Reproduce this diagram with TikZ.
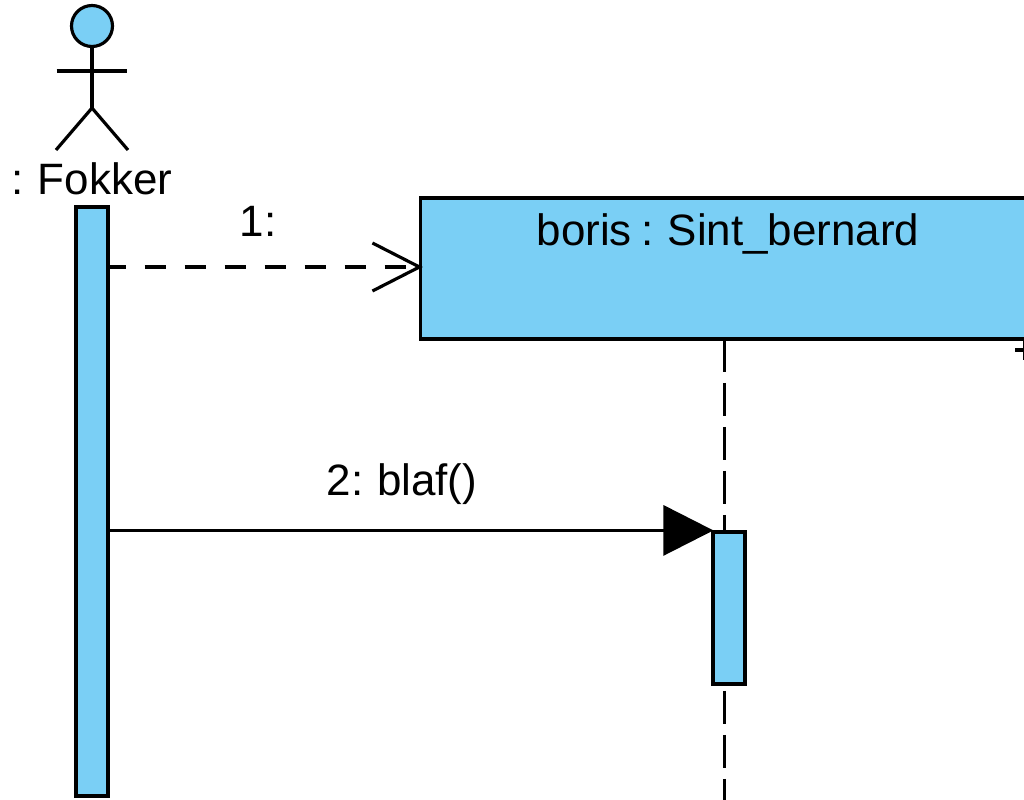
\documentclass[tikz,border=0pt]{standalone}
\usepackage{fontspec}
\setmainfont[WordSpace=0.8]{Liberation Sans}
\usetikzlibrary{arrows.meta}
\definecolor{umlblue}{RGB}{122,207,245}
\tikzset{
  umlline/.style={line width=0.9pt, black},
  umlbar/.style={draw, umlline, fill=umlblue, rectangle, inner sep=0pt, minimum width=0.32cm},
  umltext/.style={inner sep=0pt, font=\fontsize{12.5}{14}\selectfont},
  umldash/.style={umlline, dash pattern=on 0.21cm off 0.19cm, dash phase=0.05cm},
  lifedash/.style={umlline, dash pattern=on 0.33cm off 0.11cm}
}
\begin{document}
\begin{tikzpicture}[y=-1cm]
    \useasboundingbox (0,0) rectangle (10.24,8);
    \clip (0,0) rectangle (10.24,8);

    % Actor
    \node[circle, draw, umlline, fill=umlblue, inner sep=0pt, minimum size=0.41cm] (head) at (0.92,0.26) {};
    \coordinate (hip) at (0.92,1.08);
    \coordinate (handL) at (0.565,0.71);
    \coordinate (handR) at (1.275,0.71);
    \coordinate (footL) at (0.56,1.50);
    \coordinate (footR) at (1.28,1.50);
    \draw[umlline] (head) -- (hip);
    \draw[umlline] (handL) -- (handR);
    \draw[umlline] (footL) -- (hip) -- (footR);
    \node[umltext] (fokker) at (0.92,1.79) {: Fokker};

    % Lifelines
    \node[draw, umlline, fill=umlblue, rectangle, inner sep=0pt, minimum width=6.30cm, minimum height=1.41cm] (boris) at (7.355,2.685) {};
    \node[umltext] (boristext) at (7.28,2.34) {boris : Sint\_bernard};
    \coordinate (lifetop) at (7.245,3.39);
    \coordinate (lifeend) at (7.245,8.00);
    \draw[lifedash] (lifetop) -- (lifeend);
    \node[umlbar, minimum height=5.89cm] (fokkerbar) at (0.92,5.015) {};
    \node[umlbar, minimum height=1.52cm] (borisbar) at (7.29,6.08) {};

    % Mark at the edge
    \coordinate (markL) at (10.15,3.50);
    \coordinate (markR) at (10.245,3.50);
    \coordinate (markT) at (10.245,3.39);
    \coordinate (markB) at (10.245,3.60);
    \draw[umlline] (markL) -- (markR);
    \draw[umlline] (markT) -- (markB);

    % Messages
    \coordinate (msgstart) at (fokkerbar.east |- 0,2.67);
    \coordinate (msgend) at (boris.west |- 0,2.67);
    \draw[umldash, -{Straight Barb[length=0.47cm, width=0.48cm]}, shorten >=-0.04cm] (msgstart) -- (msgend);
    \node[umltext] (one) at (2.58,2.21) {1:};

    \coordinate (callstart) at (fokkerbar.east |- borisbar.north);
    \draw[umlline, -{Triangle[length=0.50cm, width=0.50cm]}, shorten >=-0.02cm] (callstart) -- (borisbar.north west);
    \node[umltext] (two) at (4.02,4.84) {2: blaf()};
\end{tikzpicture}
\end{document}
